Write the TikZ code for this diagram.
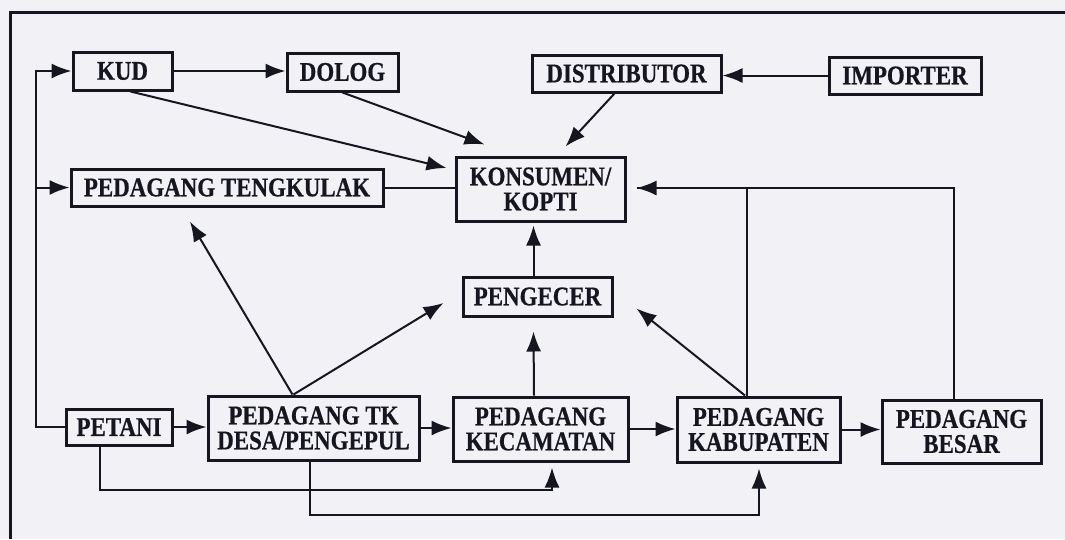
\documentclass[tikz,border=0pt]{standalone}
\usepackage{fontspec}
\setmainfont{Liberation Serif}[FakeStretch=0.85, BoldFeatures={FakeBold=0.6}]
\usetikzlibrary{arrows.meta,calc}

\definecolor{paper}{RGB}{241,241,246}
\definecolor{ink}{RGB}{22,22,32}
\newcommand{\stagefont}{\bfseries\fontsize{27}{25}\selectfont}

\begin{document}
\begin{tikzpicture}[
        x=1pt, y=-1pt,
        >={Latex[length=20pt,width=15pt]},
        stage/.style={
            rectangle, draw=ink, line width=3pt, inner sep=0pt,
            align=center, text=ink, font=\stagefont
        },
        flow/.style={->, draw=ink, line width=2pt},
        link/.style={draw=ink, line width=2pt}
    ]
    \useasboundingbox (0,0) rectangle (1065,539);
    \fill[paper] (0,0) rectangle (1065,539);
    \draw[ink, line width=3pt] (1065,12) -- (10,12) -- (10,539);

    % top row
    \node[stage, minimum width=99pt, minimum height=38pt] (kud) at (122.5,71) {KUD};
    \node[stage, minimum width=111pt, minimum height=38pt] (dolog) at (342.5,72) {DOLOG};
    \node[stage, minimum width=189pt, minimum height=37pt] (distributor) at (626.5,73.5) {DISTRIBUTOR};
    \node[stage, minimum width=152pt, minimum height=37pt] (importer) at (905,75.5) {IMPORTER};

    % middle
    \node[stage, minimum width=312pt, minimum height=37pt] (tengkulak) at (227,187.5) {PEDAGANG TENGKULAK};
    \node[stage, minimum width=169pt, minimum height=64pt] (konsumen) at (540.5,189) {KONSUMEN/\\KOPTI};
    \node[stage, minimum width=149pt, minimum height=39pt] (pengecer) at (537.5,296.5) {PENGECER};

    % bottom row
    \node[stage, minimum width=106pt, minimum height=36pt] (petani) at (119,427) {PETANI};
    \node[stage, minimum width=211pt, minimum height=64pt] (tkdesa) at (313.5,428) {PEDAGANG TK\\DESA/PENGEPUL};
    \node[stage, minimum width=175pt, minimum height=64pt] (kecamatan) at (540.5,429) {PEDAGANG\\KECAMATAN};
    \node[stage, minimum width=163pt, minimum height=65pt] (kabupaten) at (758.5,429.5) {PEDAGANG\\KABUPATEN};
    \node[stage, minimum width=159pt, minimum height=63pt] (besar) at (961.5,431.5) {PEDAGANG\\BESAR};

    % connectors
    \draw[flow] (kud.east) -- (kud.east -| dolog.west);
    \draw[flow] (importer.west) -- (importer.west -| distributor.east);
    \draw[flow] ($(kud.south)+(8,0)$) -- ($(konsumen.west)+(-8,-21)$);
    \draw[flow] (dolog.south) -- ($(konsumen.north west)+(30,-11)$);
    \draw[flow] ($(distributor.south)+(-12,0)$) -- ($(konsumen.north)+(25,-9)$);
    \draw[link] (tengkulak.east) -- (tengkulak.east -| konsumen.west);
    \draw[flow] ($(pengecer.north)+(-4,0)$) -- ($(konsumen.south)+(-7,3)$);
    \draw[flow] ($(kecamatan.north)+(-6.5,0)$) -- ($(pengecer.south)+(-4,14)$);
    \draw[flow] ($(kabupaten.north)+(-13.5,0)$) -- ($(pengecer.south east)+(23,-9)$);
    \draw[link] ($(kabupaten.north)+(-11.5,0)$) |- ($(konsumen.east)+(10,-1)$);
    \draw[flow] ($(besar.north)+(-7.5,0)$) |- ($(konsumen.east)+(10,-1)$);
    \draw[flow] ($(tkdesa.north)+(-21,0)$) -- ($(tengkulak.south)+(-37,14)$);
    \draw[flow] ($(tkdesa.north)+(-20,0)$) -- ($(pengecer.west)+(-18,6.5)$);
    \draw[flow] (petani.east) -- (petani.east -| tkdesa.west);
    \draw[flow] (tkdesa.east) -- (tkdesa.east -| kecamatan.west);
    \draw[flow] (kecamatan.east) -- (kecamatan.east -| kabupaten.west);
    \draw[flow] (kabupaten.east) -- (kabupaten.east -| besar.west);
    \draw[flow] ($(petani.south)+(-19,0)$) -- ++(0,43) -| ($(kecamatan.south)+(11.5,5)$);
    \draw[flow] ($(tkdesa.south)+(-3.5,0)$) -- ++(0,53) -| ($(kabupaten.south)+(0.5,5)$);
    \draw[flow] (petani.west) -- ++(-29,0) |- (kud.west);
    \draw[flow] ($(petani.west)+(-29,0)$) |- (tengkulak.west);
\end{tikzpicture}
\end{document}
